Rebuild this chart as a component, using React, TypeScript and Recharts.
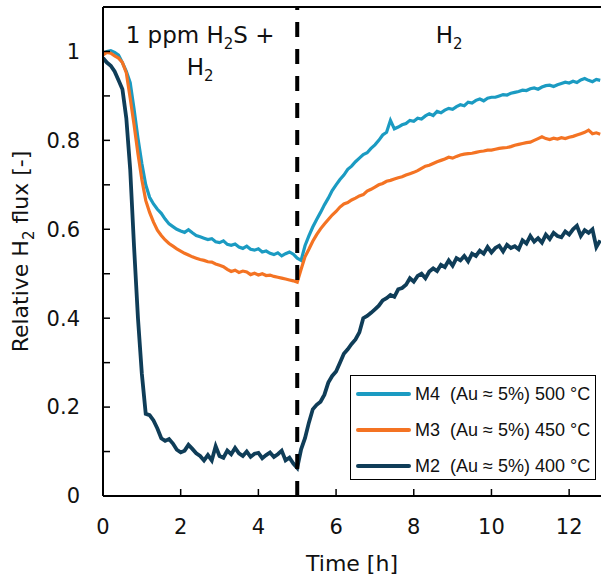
import React from 'react';
import { LineChart, Line, XAxis, YAxis, ReferenceLine, ReferenceArea, Legend } from 'recharts';

const TIME = [
  0, 0.1, 0.2, 0.3, 0.4, 0.5, 0.6, 0.7, 0.8, 0.9,
  1, 1.1, 1.2, 1.3, 1.4, 1.5, 1.6, 1.7, 1.8, 1.9,
  2, 2.1, 2.2, 2.3, 2.4, 2.5, 2.6, 2.7, 2.8, 2.9,
  3, 3.1, 3.2, 3.3, 3.4, 3.5, 3.6, 3.7, 3.8, 3.9,
  4, 4.1, 4.2, 4.3, 4.4, 4.5, 4.6, 4.7, 4.8, 4.9,
  5, 5.1, 5.2, 5.3, 5.4, 5.5, 5.6, 5.7, 5.8, 5.9,
  6, 6.1, 6.2, 6.3, 6.4, 6.5, 6.6, 6.7, 6.8, 6.9,
  7, 7.1, 7.2, 7.3, 7.4, 7.5, 7.6, 7.7, 7.8, 7.9,
  8, 8.1, 8.2, 8.3, 8.4, 8.5, 8.6, 8.7, 8.8, 8.9,
  9, 9.1, 9.2, 9.3, 9.4, 9.5, 9.6, 9.7, 9.8, 9.9,
  10, 10.1, 10.2, 10.3, 10.4, 10.5, 10.6, 10.7, 10.8, 10.9,
  11, 11.1, 11.2, 11.3, 11.4, 11.5, 11.6, 11.7, 11.8, 11.9,
  12, 12.1, 12.2, 12.3, 12.4, 12.5, 12.6, 12.7, 12.8,
];

const M4_500 = [
  0.995, 1.0, 1.002, 0.998, 0.992, 0.975, 0.955, 0.93, 0.87, 0.805,
  0.748, 0.7, 0.672, 0.657, 0.645, 0.636, 0.623, 0.612, 0.606, 0.6,
  0.596, 0.593, 0.599, 0.592, 0.586, 0.583, 0.58, 0.577, 0.579, 0.572,
  0.57, 0.574, 0.566, 0.564, 0.567, 0.56, 0.557, 0.562, 0.555, 0.553,
  0.556, 0.549, 0.551, 0.546, 0.543, 0.547, 0.54, 0.545, 0.549, 0.544,
  0.535, 0.53, 0.563, 0.585, 0.605, 0.622, 0.638, 0.655, 0.67, 0.687,
  0.7, 0.712, 0.722, 0.735, 0.742, 0.752, 0.76, 0.768, 0.772, 0.782,
  0.79, 0.8, 0.812, 0.818, 0.845, 0.826, 0.83, 0.835, 0.838, 0.845,
  0.843, 0.85, 0.848, 0.855, 0.86, 0.856, 0.865, 0.862, 0.868, 0.872,
  0.87, 0.876, 0.88, 0.878, 0.886, 0.884, 0.89, 0.893, 0.889, 0.895,
  0.897, 0.897, 0.9, 0.903, 0.902, 0.906, 0.908, 0.91, 0.913, 0.912,
  0.916, 0.918, 0.915, 0.92, 0.923, 0.924, 0.921, 0.925, 0.928, 0.931,
  0.929, 0.933, 0.93, 0.936, 0.939, 0.935, 0.932, 0.937, 0.935,
];

const M3_450 = [
  0.992, 0.998, 0.996, 0.99, 0.985, 0.975, 0.952, 0.895, 0.835, 0.77,
  0.712, 0.665, 0.638, 0.616, 0.598, 0.586, 0.576, 0.568, 0.562, 0.556,
  0.551, 0.546, 0.542, 0.538, 0.535, 0.532, 0.53, 0.527, 0.526, 0.522,
  0.519, 0.516, 0.51, 0.505, 0.508, 0.503, 0.506, 0.504, 0.498, 0.501,
  0.497, 0.5, 0.496, 0.497, 0.494, 0.492, 0.49, 0.488, 0.486, 0.484,
  0.481, 0.51, 0.538, 0.555, 0.573, 0.588, 0.601, 0.612, 0.622, 0.632,
  0.64, 0.65, 0.657, 0.66, 0.666, 0.67, 0.675, 0.678, 0.686, 0.69,
  0.695, 0.7, 0.703, 0.708, 0.71, 0.713, 0.716, 0.718, 0.722, 0.725,
  0.728, 0.732, 0.737, 0.742, 0.744, 0.748, 0.752, 0.755, 0.758, 0.762,
  0.76, 0.764, 0.767, 0.769, 0.77, 0.771, 0.773, 0.775, 0.776, 0.778,
  0.778, 0.78, 0.782, 0.783, 0.784, 0.786, 0.789, 0.791, 0.793, 0.795,
  0.796, 0.8, 0.804, 0.808, 0.804, 0.802, 0.805, 0.803, 0.806, 0.804,
  0.807, 0.809, 0.812, 0.815, 0.818, 0.823, 0.815, 0.817, 0.814,
];

const M2_400 = [
  0.985, 0.975, 0.968, 0.955, 0.935, 0.915, 0.85, 0.735, 0.56, 0.4,
  0.275, 0.185, 0.182, 0.17, 0.152, 0.13, 0.124, 0.128, 0.118, 0.104,
  0.098, 0.102, 0.115, 0.106, 0.096, 0.09, 0.08, 0.092, 0.08, 0.112,
  0.09, 0.086, 0.102, 0.094, 0.108, 0.096, 0.09, 0.1, 0.088, 0.095,
  0.097, 0.085, 0.092, 0.098, 0.088, 0.094, 0.102, 0.08, 0.086, 0.073,
  0.063, 0.105, 0.13, 0.165, 0.195, 0.205, 0.212, 0.228, 0.255, 0.27,
  0.28, 0.3, 0.32, 0.33, 0.342, 0.352, 0.368, 0.4, 0.405, 0.412,
  0.42, 0.428, 0.44, 0.445, 0.452, 0.448, 0.465, 0.468, 0.475, 0.49,
  0.482, 0.495, 0.5, 0.49, 0.505, 0.512, 0.506, 0.52, 0.515, 0.53,
  0.518, 0.535, 0.53, 0.54, 0.528, 0.545, 0.54, 0.552, 0.545, 0.56,
  0.548, 0.558, 0.563, 0.55, 0.565, 0.558, 0.562, 0.555, 0.575, 0.568,
  0.585, 0.572, 0.58, 0.57, 0.588, 0.578, 0.592, 0.585, 0.582, 0.595,
  0.588, 0.6, 0.608, 0.585, 0.598, 0.592, 0.6, 0.56, 0.575,
];

const X_TICKS = [0, 2, 4, 6, 8, 10, 12];
const Y_TICKS = [0, 0.1, 0.2, 0.3, 0.4, 0.5, 0.6, 0.7, 0.8, 0.9, 1];
const X_MAX = 12.82;
const Y_MAX = 1.1;
const SWITCH_TIME = 5;

const SERIES = [
  { key: 'm4', name: 'M4  (Au \u2248 5%) 500 \u00b0C', color: '#1b9bc2', width: 3.2 },
  { key: 'm3', name: 'M3  (Au \u2248 5%) 450 \u00b0C', color: '#f47323', width: 3.2 },
  { key: 'm2', name: 'M2  (Au \u2248 5%) 400 \u00b0C', color: '#0f3d58', width: 3.8 },
];

const DATA = TIME.map((t, i) => ({ t, m4: M4_500[i], m3: M3_450[i], m2: M2_400[i] }));

const FONT = '"DejaVu Sans", sans-serif';
const TEXT = '#111';

const XTick = (props: any) => {
  const { x, y, payload } = props;
  return (
    <g>
      {payload.value !== 0 && (
        <line x1={x} y1={y} x2={x} y2={y - 7} stroke="#000" strokeWidth={1.5} />
      )}
      <text x={x} y={y + 31} dy="0.35em" textAnchor="middle" fontFamily={FONT} fontSize={21} fill={TEXT}>
        {payload.value}
      </text>
    </g>
  );
};

const YTick = (props: any) => {
  const { x, y, payload } = props;
  const v = payload.value;
  const major = Math.round(v * 10) % 2 === 0;
  return (
    <g>
      <line x1={x} y1={y} x2={x + 7} y2={y} stroke="#000" strokeWidth={1.5} />
      {major && (
        <text x={x - 23} y={y} dy="0.35em" textAnchor="end" fontFamily={FONT} fontSize={21} fill={TEXT}>
          {String(v)}
        </text>
      )}
    </g>
  );
};

const XTitle = (props: any) => {
  const vb = props.viewBox || {};
  const cx = vb.x + vb.width / 2;
  return (
    <text x={cx} y={vb.y + 67} dy="0.35em" textAnchor="middle" fontFamily={FONT} fontSize={22} fill={TEXT}>
      Time [h]
    </text>
  );
};

const YTitle = (props: any) => {
  const vb = props.viewBox || {};
  const cx = 20;
  const cy = vb.y + vb.height / 2;
  return (
    <text
      x={cx}
      y={cy}
      dy="0.35em"
      transform={`rotate(-90, ${cx}, ${cy})`}
      textAnchor="middle"
      fontFamily={FONT}
      fontSize={22}
      fill={TEXT}
    >
      Relative H<tspan fontSize={15} dy={6}>2</tspan>
      <tspan dy={-6}> flux [-]</tspan>
    </text>
  );
};

const LeftNote = (props: any) => {
  const vb = props.viewBox || {};
  const cx = vb.x + vb.width / 2;
  return (
    <g>
      <text x={cx} y={vb.y + 36} textAnchor="middle" fontFamily={FONT} fontSize={23} fill={TEXT}>
        1 ppm H<tspan fontSize={15} dy={6}>2</tspan>
        <tspan dy={-6}>S +</tspan>
      </text>
      <text x={cx} y={vb.y + 68} textAnchor="middle" fontFamily={FONT} fontSize={23} fill={TEXT}>
        H<tspan fontSize={15} dy={6}>2</tspan>
      </text>
    </g>
  );
};

const RightNote = (props: any) => {
  const vb = props.viewBox || {};
  const cx = vb.x + vb.width / 2;
  return (
    <text x={cx} y={vb.y + 36} textAnchor="middle" fontFamily={FONT} fontSize={23} fill={TEXT}>
      H<tspan fontSize={15} dy={6}>2</tspan>
    </text>
  );
};

const renderLegend = () => (
  <div
    style={{
      boxSizing: 'border-box',
      width: 246,
      height: 105,
      border: '1.5px solid #000',
      background: '#fff',
      position: 'relative',
      fontFamily: '"Liberation Sans", Arial, sans-serif',
      fontSize: 18,
      color: TEXT,
    }}
  >
    {SERIES.map((s, i) => (
      <div
        key={s.key}
        style={{
          position: 'absolute',
          left: 5,
          top: 6 + i * 36,
          height: 24,
          display: 'flex',
          alignItems: 'center',
          whiteSpace: 'pre',
        }}
      >
        <span style={{ display: 'inline-block', width: 55, height: 4, background: s.color, borderRadius: 2 }} />
        <span style={{ marginLeft: 4 }}>{s.name}</span>
      </div>
    ))}
  </div>
);

export default function App() {
  return (
    <div style={{ position: 'absolute', left: 0, top: 0, width: 601, height: 584, background: '#fff' }}>
      <LineChart width={601} height={584} data={DATA} margin={{ top: 7, right: 0, bottom: 0, left: 0 }}>
        <XAxis
          dataKey="t"
          type="number"
          domain={[0, X_MAX]}
          ticks={X_TICKS}
          interval={0}
          height={88}
          tickSize={0}
          tickMargin={0}
          tickLine={false}
          axisLine={{ stroke: '#000', strokeWidth: 2 }}
          tick={<XTick />}
          label={<XTitle />}
          allowDataOverflow
        />
        <YAxis
          type="number"
          domain={[0, Y_MAX]}
          ticks={Y_TICKS}
          interval={0}
          width={103}
          tickSize={0}
          tickMargin={0}
          tickLine={false}
          axisLine={{ stroke: '#000', strokeWidth: 2 }}
          tick={<YTick />}
          label={<YTitle />}
          allowDataOverflow
        />
        <ReferenceArea x1={0} x2={SWITCH_TIME} fill="none" fillOpacity={0} stroke="none" label={<LeftNote />} />
        <ReferenceArea x1={SWITCH_TIME} x2={X_MAX} fill="none" fillOpacity={0} stroke="none" label={<RightNote />} />
        <ReferenceLine y={Y_MAX} stroke="#000" strokeWidth={2} />
        {SERIES.map((s) => (
          <Line
            key={s.key}
            dataKey={s.key}
            name={s.name}
            type="linear"
            stroke={s.color}
            strokeWidth={s.width}
            dot={false}
            activeDot={false}
            isAnimationActive={false}
          />
        ))}
        <ReferenceLine x={SWITCH_TIME} stroke="#000" strokeWidth={4} strokeDasharray="15 12" />
        <Legend
          layout="vertical"
          align="center"
          verticalAlign="middle"
          content={renderLegend}
          wrapperStyle={{ left: 350, top: 375, width: 246, height: 105 }}
        />
      </LineChart>
    </div>
  );
}
